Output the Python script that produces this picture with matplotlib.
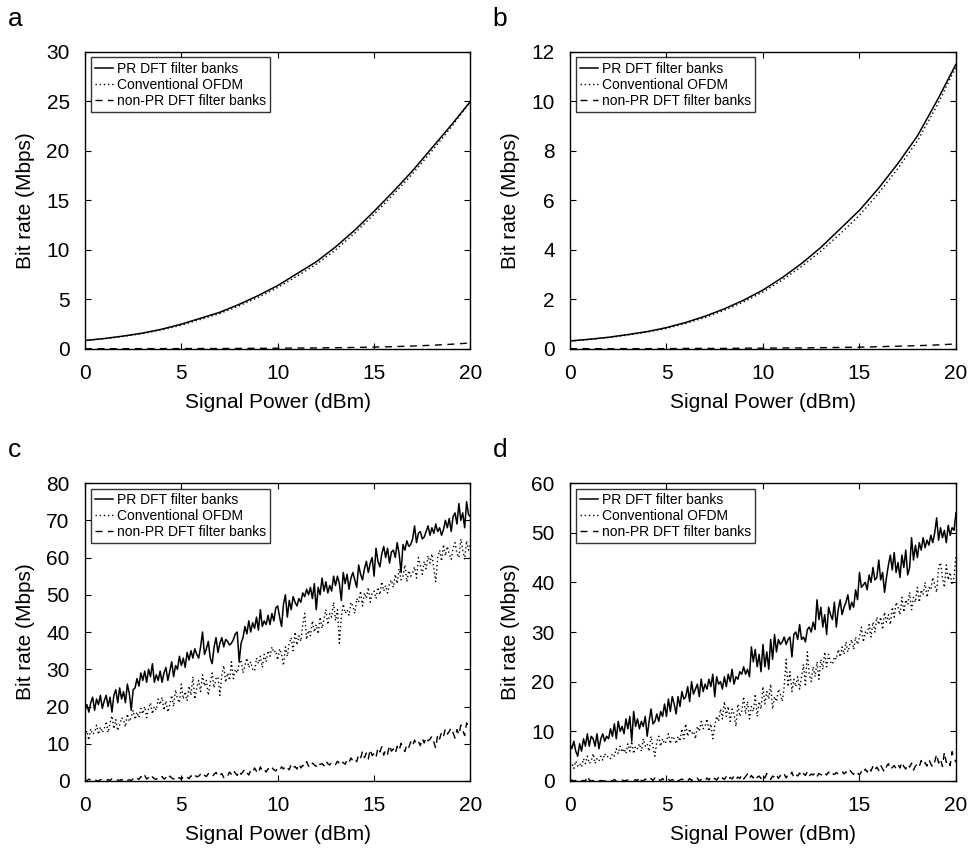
import numpy as np
import matplotlib
matplotlib.use("Agg")
import matplotlib.pyplot as plt

plt.rcParams["font.family"] = ["Liberation Sans", "DejaVu Sans"]

# panels a and b: smooth curves, one value per dBm
power_ab = list(range(0, 21))

a_pr = [0.85, 1.05, 1.3, 1.6, 2.0, 2.5, 3.1, 3.7, 4.5, 5.4, 6.4, 7.6, 8.8, 10.3, 12.0,
        13.9, 15.9, 18.0, 20.3, 22.6, 25.0]
a_ofdm = [0.85, 1.02, 1.27, 1.55, 1.93, 2.4, 2.98, 3.58, 4.35, 5.22, 6.2, 7.35, 8.55, 10.0,
          11.7, 13.6, 15.6, 17.7, 20.0, 22.4, 25.0]
a_nonpr = [0.02, 0.02, 0.02, 0.03, 0.03, 0.03, 0.04, 0.04, 0.05, 0.06, 0.07, 0.09, 0.1, 0.12,
           0.15, 0.18, 0.23, 0.29, 0.37, 0.47, 0.6]

b_pr = [0.32, 0.39, 0.47, 0.58, 0.7, 0.86, 1.07, 1.32, 1.62, 1.97, 2.38, 2.88, 3.45, 4.1,
        4.85, 5.6, 6.5, 7.5, 8.6, 10.0, 11.5]
b_ofdm = [0.32, 0.38, 0.46, 0.56, 0.68, 0.83, 1.03, 1.27, 1.56, 1.9, 2.3, 2.78, 3.33, 3.95,
          4.65, 5.4, 6.3, 7.3, 8.4, 9.8, 11.4]
b_nonpr = [0.01, 0.01, 0.01, 0.01, 0.01, 0.01, 0.02, 0.02, 0.02, 0.03, 0.03, 0.04, 0.04, 0.05,
           0.06, 0.07, 0.09, 0.11, 0.13, 0.16, 0.2]

# panels c and d: noisy curves, one value per 0.1 dBm
power_cd = [i / 10 for i in range(201)]

c_pr = [
    19, 20.5, 18.5, 21, 22.5, 19, 22, 20.5, 23, 19.5,
    21.5, 23, 20, 22.5, 18.5, 23, 24.5, 21, 25, 22,
    24, 21, 26, 23.5, 19, 24.5, 25, 27.5, 25.5, 29,
    27, 29.5, 26.5, 30, 28, 31.5, 26.5, 28.5, 27, 29.5,
    26.5, 29, 30.5, 27, 29.5, 32, 28, 31, 30, 33.5,
    31, 33, 30.5, 34.5, 32.5, 35, 33, 35.5, 34, 33,
    36, 40, 34, 35.5, 37.5, 33, 31.5, 36, 38.5, 34.5,
    37, 38.5, 36, 38, 37.5, 36.5, 37, 38, 39.5, 40,
    32, 37, 38.5, 41.5, 39.5, 43, 40, 42.5, 41, 44,
    40.5, 46, 41.5, 43, 42, 44.5, 42, 45, 43, 46.5,
    47, 44, 41.5, 47.5, 50, 44, 48.5, 46, 49.5, 48,
    47, 49, 48, 50.5, 49.5, 51.5, 50, 52, 49, 53,
    46, 52, 50, 54.5, 51, 53.5, 50.5, 52.5, 51, 55,
    52.5, 55, 53, 48.5, 56, 53, 55.5, 51.5, 54.5, 56,
    54, 52, 58, 55.5, 54, 57, 59, 56, 58.5, 60,
    55, 62.5, 59, 57.5, 61, 63, 60, 62.5, 58.5, 61.5,
    62, 60, 64, 61, 56, 63.5, 62, 64.5, 63, 63.5,
    65, 68.5, 64, 66.5, 67, 65, 65.5, 67, 68.5, 66,
    68, 66.5, 69, 67, 68, 66, 67.5, 70, 68, 70.5,
    67, 71, 72, 69, 74.5, 70, 72, 68, 75, 71.5,
    71,
]
c_ofdm = [
    12, 13.5, 11, 14, 12.5, 13, 15, 12.5, 14.5, 13,
    14, 16, 13, 15.5, 17.5, 14, 16.5, 13.5, 15, 17,
    16.5, 14.5, 18, 16, 17, 19, 16.5, 18.5, 17, 19.5,
    18, 20, 17, 19.5, 21, 18, 20, 19, 22, 20.5,
    22.5, 19, 21.5, 18.5, 20.5, 23, 20, 24.5, 22, 21,
    26, 22, 24, 21.5, 25.5, 23, 28, 22, 25, 27,
    24, 28.5, 25.5, 27, 23, 26.5, 29, 25, 27.5, 28,
    23, 28.5, 31, 26.5, 29, 27, 32, 27.5, 30, 29,
    31.5, 32.5, 29, 31, 33, 30.5, 32, 30, 29.5, 33,
    31.5, 33.5, 30.5, 34, 32, 35, 33.5, 36, 34.5, 35,
    32.5, 35.5, 34, 31, 36, 33.5, 37, 38.5, 35, 40,
    36.5, 39, 37.5, 42, 45, 38, 40.5, 39, 43, 40,
    42, 39.5, 44, 41, 43.5, 46, 42, 45, 44, 48,
    43, 46, 37, 44, 47.5, 45, 46, 44.5, 48, 47,
    45, 49, 48, 51, 47, 50.5, 49, 52, 48, 50.5,
    51, 49, 52, 50, 53.5, 51, 52.5, 50.5, 53, 54,
    52, 55.5, 53, 57, 54, 55, 58, 53.5, 56.5, 55,
    56, 57.5, 54.5, 60, 58, 55.5, 59, 57, 60.5, 58.5,
    61, 57, 53.5, 60, 62, 59, 63.5, 60.5, 63, 61,
    59.5, 62.5, 64, 61, 60, 65, 62, 59.5, 64.5, 62,
    63.5,
]
c_nonpr = [
    0.3, 0, 0.5, 0.2, 0, 0.4, 0.1, 0, 0.3, 0.5,
    0.2, 0, 0.4, 0.1, 0.6, 0.2, 0, 0.3, 0.1, 0.4,
    0, 0.5, 0.2, 0.3, 0.1, 0.6, 0.2, 0.8, 0.4, 1.2,
    0.6, 1.5, 0.5, 0.9, 0.3, 1.1, 0.6, 0.4, 1.0, 0.7,
    1.2, 0.5, 0.9, 0.3, 1.3, 0.8, 0.5, 1.1, 0.6, 0.9,
    0.4, 1.2, 0.7, 1.0, 0.6, 1.4, 0.9, 1.6, 1.1, 1.3,
    1.8, 1.0, 1.5, 1.2, 2.0, 1.4, 1.1, 1.8, 2.3, 1.2,
    1.5, 2.0, 0.9, 1.6, 1.3, 2.4, 1.8, 2.9, 2.1, 1.5,
    2.7, 1.8, 2.5, 3.2, 2.2, 1.6, 2.8, 2.3, 3.5, 2.6,
    2.0, 3.8, 2.6, 3.1, 2.4, 3.3, 2.8, 3.6, 3.0, 2.7,
    3.4, 2.9, 3.8, 3.2, 4.1, 3.5, 3.0, 4.5, 3.6, 3.9,
    3.2, 4.6, 3.5, 4.2, 3.8, 5.2, 4.0, 3.6, 4.8, 4.3,
    3.9, 5.0, 4.4, 4.7, 4.1, 5.4, 4.6, 4.3, 5.1, 4.8,
    4.4, 5.3, 4.7, 5.5, 4.9, 4.5, 5.7, 5.0, 6.2, 5.4,
    6.0, 5.2, 7.0, 6.1, 8.0, 6.3, 7.5, 5.9, 8.5, 6.8,
    7.4, 6.3, 8.9, 7.8, 9.2, 6.9, 8.3, 7.2, 9.6, 8.0,
    8.6, 7.4, 9.3, 8.2, 10.1, 8.8, 7.9, 9.8, 9.0, 10.5,
    9.4, 11.0, 9.9, 10.6, 9.5, 11.4, 10.2, 11.7, 10.8, 11.2,
    12.0, 10.4, 8.8, 12.5, 11.3, 13.1, 12.0, 14.0, 12.6, 13.3,
    14.3, 12.9, 11.5, 13.8, 12.4, 15.0, 13.6, 12.2, 15.6, 14.4,
    13.5,
]

d_pr = [
    7.5, 6.5, 8, 6, 5, 7.5, 6, 8.5, 7, 9.5,
    7, 9, 8.5, 7, 9.5, 6.5, 8.5, 9.5, 8, 9,
    8.5, 10.5, 9, 11.5, 8.5, 12, 10, 11, 9.5, 12.5,
    10.5, 13, 8, 14, 11, 12.5, 10.5, 12, 11, 13,
    9, 12, 14.5, 11.5, 12, 13.5, 12, 14, 13, 15.5,
    13, 16.5, 14, 17, 15.5, 13.5, 17, 15, 18, 16.5,
    17, 19, 16, 20, 17.5, 18.5, 19.5, 17, 20.5, 18,
    19.5, 18.5, 20.5, 19, 21.5, 17, 21, 19.5, 20, 18.5,
    21, 19, 21.5, 20, 22.5, 19.5, 21, 20.5, 22, 21.5,
    23, 21.5, 22.5, 21, 27, 24, 26.5, 23, 25.5, 22,
    27.5, 23, 26, 22.5, 28.5, 24.5, 29.5, 26, 28.5, 27.5,
    28, 29, 27.5, 28.5, 29, 25, 29.5, 30, 28.5, 31.5,
    28.5, 29, 28, 30.5, 31, 30, 32, 30.5, 36.5, 32.5,
    35, 31, 33.5, 29.5, 35, 33.5, 32.5, 36, 31, 34.5,
    36.5, 33.5, 35, 36, 37.5, 34.5, 36, 35, 38.5, 36.5,
    42, 39, 39.5, 40, 38.5, 41.5, 40, 43, 40.5, 41,
    44.5, 40.5, 42, 38, 41, 43.5, 45.5, 42.5, 46, 42,
    44, 41, 45.5, 43, 46.5, 41.5, 43, 49, 44.5, 47.5,
    45, 48, 46.5, 49, 47, 48.5, 47.5, 49.5, 48, 50,
    53, 48.5, 51, 49, 50.5, 48, 51.5, 49.5, 51, 50.5,
    54,
]
d_ofdm = [
    3, 3.5, 2.5, 4, 3, 3.5, 2.8, 4.5, 3.5, 5,
    3.5, 4, 5.5, 3.5, 4.5, 4, 5, 4.2, 5.5, 4.8,
    5, 4.5, 5.5, 5, 6.5, 5.5, 7, 5.8, 6.5, 5.5,
    7.5, 6, 8, 5.5, 7, 6.5, 7.5, 6, 8.5, 7,
    7.5, 6, 9, 7, 5, 8, 9, 7, 8.5, 7.5,
    8, 9.5, 7.5, 9, 8.5, 7.5, 9, 8, 10.5, 8.5,
    11.5, 9, 10.5, 9.5, 10, 8.5, 11, 10, 12, 10.5,
    11, 12.5, 10, 11.5, 8.5, 11, 13, 12, 14.5, 12.5,
    16, 13, 15, 12, 14.5, 13.5, 11, 15.5, 13, 14,
    17, 13.5, 16, 12.5, 15, 14, 17.5, 13, 16, 14.5,
    19, 15.5, 18, 16.5, 19.5, 14.5, 17, 16, 18.5, 17.5,
    16, 19, 24.5, 19, 22, 18, 20.5, 19, 21, 18.5,
    21, 23.5, 19, 26, 21.5, 20, 23, 21, 24, 20.5,
    24.5, 22.5, 26, 23, 25.5, 24, 23.5, 25, 24.5, 26.5,
    25, 27, 25.5, 28, 26, 27.5, 28.5, 26.5, 29, 27.5,
    29, 31, 28, 30, 29.5, 31.5, 29, 32, 30, 33,
    31.5, 33, 30.5, 34, 32, 33.5, 31.5, 35, 33, 36,
    35, 33.5, 37, 34, 36.5, 35.5, 38, 34.5, 37, 36,
    39, 36, 38.5, 37.5, 40, 37, 39, 38.5, 41, 39.5,
    38, 43, 44, 41, 39, 43.5, 40.5, 42, 39.5, 41,
    45.5,
]
d_nonpr = [
    0, 0.2, 0, 0.1, 0, 0.3, 0, 0.1, 0, 1.0,
    0.2, 0, 0.1, 0, 0.2, 0, 0.1, 0, 0, 0.2,
    0, 0.1, 0, 0.3, 0, 0.1, 0, 0.2, 0, 0.1,
    0.2, 0, 0.1, 0, 0.3, 0, 0.8, 0.1, 0, 0.4,
    0.1, 0, 0.5, 0.1, 0.6, 0, 0.3, 0.1, 0.5, 0,
    0.2, 0.4, 0, 0.3, 0.1, 0.5, 0, 0.2, 0.4, 0.1,
    0.3, 0, 0.5, 0.1, 0.4, 0.2, 0.6, 0, 0.3, 0.5,
    0.1, 0.6, 0.2, 0.8, 0.3, 0.5, 0.2, 0.7, 0.1, 0.6,
    0.3, 0.9, 0.2, 0.7, 0.4, 1.0, 0.3, 0.8, 0.5, 1.2,
    0.4, 0.9, 1.4, 0.5, 1.1, 0.6, 1.3, 0.7, 1.0, 0.5,
    1.2, 0.6, 1.5, 0.8, 0.3, 1.0, 0.7, 1.3, 0.5, 1.1,
    0.8, 1.4, 0.6, 1.2, 0.9, 1.8, 0.7, 1.3, 1.0, 1.6,
    0.9, 1.5, 1.1, 1.9, 1.0, 1.4, 1.2, 1.7, 0.9, 1.5,
    1.3, 1.0, 1.6, 1.2, 1.8, 1.1, 1.5, 1.3, 1.7, 1.4,
    1.6, 2.0, 1.4, 1.8, 1.5, 2.2, 1.7, 1.3, 2.0, 1.6,
    1.2, 1.9, 1.5, 2.4, 1.8, 2.7, 2.0, 3.0, 2.2, 2.8,
    2.1, 3.2, 2.4, 1.8, 2.9, 3.5, 2.3, 2.7, 3.1, 2.5,
    3.3, 2.6, 3.8, 2.9, 2.4, 3.4, 2.8, 3.6, 2.2, 3.0,
    3.5, 2.9, 4.1, 3.2, 3.7, 3.0, 4.3, 3.4, 2.8, 3.9,
    5.4, 3.6, 4.5, 2.9, 5.8, 3.7, 4.2, 3.1, 5.9, 4.6,
    3.8,
]

labels = ["PR DFT filter banks", "Conventional OFDM", "non-PR DFT filter banks"]

panels = [
    ("a", [0.0875, 0.590, 0.397, 0.349], power_ab, (a_pr, a_ofdm, a_nonpr), 30, 5),
    ("b", [0.587, 0.590, 0.3975, 0.349], power_ab, (b_pr, b_ofdm, b_nonpr), 12, 2),
    ("c", [0.0875, 0.0823, 0.397, 0.350], power_cd, (c_pr, c_ofdm, c_nonpr), 80, 10),
    ("d", [0.587, 0.0823, 0.3975, 0.350], power_cd, (d_pr, d_ofdm, d_nonpr), 60, 10),
]

fig = plt.figure(figsize=(9.71, 8.51), dpi=100)

for letter, rect, x, series, ymax, ystep in panels:
    ax = fig.add_axes(rect)
    pr, ofdm, nonpr = series
    ax.plot(x, pr, color="black", lw=1.1, ls="-", label=labels[0])
    ax.plot(x, ofdm, color="black", lw=1.0, ls=(0, (1, 2)), label=labels[1])
    ax.plot(x, nonpr, color="black", lw=1.0, ls=(0, (5, 4)), label=labels[2])
    ax.set_xlim(0, 20)
    ax.set_ylim(0, ymax)
    ax.set_xticks([0, 5, 10, 15, 20])
    ax.set_yticks(np.arange(0, ymax + 0.1, ystep))
    ax.tick_params(direction="in", top=True, right=True, labelsize=15,
                   length=4, width=0.8, pad=11)
    for sp in ax.spines.values():
        sp.set_linewidth(1.0)
    ax.set_xlabel("Signal Power (dBm)", fontsize=15, labelpad=7)
    ax.set_ylabel("Bit rate (Mbps)", fontsize=15, labelpad=8)
    leg = ax.legend(loc="upper left", fontsize=10, frameon=True, fancybox=False,
                    edgecolor="black", handlelength=1.3, handletextpad=0.3,
                    borderpad=0.3, labelspacing=0.15, borderaxespad=0.4)
    leg.get_frame().set_linewidth(1.0)
    ax.text(-0.2, 1.07, letter, transform=ax.transAxes, fontsize=19,
            ha="left", va="bottom")

fig.savefig("out.png", dpi=100)
